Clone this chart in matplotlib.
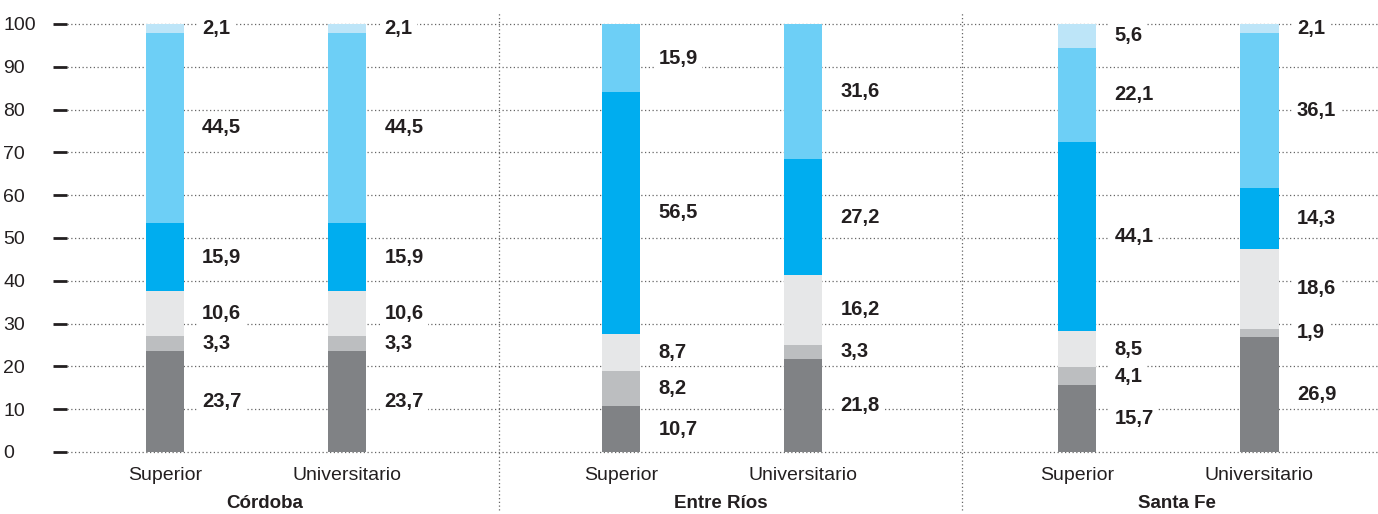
import numpy as np
import matplotlib
matplotlib.use("Agg")
import matplotlib.pyplot as plt
import matplotlib.transforms as mtransforms

plt.rcParams['font.family'] = ['Liberation Sans', 'DejaVu Sans']

groups = ["Córdoba", "Entre Ríos", "Santa Fe"]
levels = ["Superior", "Universitario"]

# segments, bottom to top, for each bar (Córdoba Sup/Univ, Entre Ríos Sup/Univ, Santa Fe Sup/Univ)
seg1 = [23.7, 23.7, 10.7, 21.8, 15.7, 26.9]
seg2 = [3.3, 3.3, 8.2, 3.3, 4.1, 1.9]
seg3 = [10.6, 10.6, 8.7, 16.2, 8.5, 18.6]
seg4 = [15.9, 15.9, 56.5, 27.2, 44.1, 14.3]
seg5 = [44.5, 44.5, 15.9, 31.6, 22.1, 36.1]
seg6 = [2.1, 2.1, 0.0, 0.0, 5.6, 2.1]
yticks = list(range(0, 101, 10))

segments = [seg1, seg2, seg3, seg4, seg5, seg6]
colors = ["#808285", "#bcbec0", "#e6e7e8", "#00adef", "#6dcff6", "#bde5f8"]

pos = np.array([0, 1, 2.5, 3.5, 5, 6])
width = 0.21
txt = "#231f20"

fig = plt.figure(figsize=(13.78, 5.14), dpi=100)
ax = fig.add_axes([67 / 1378, 1 - 452 / 514, 1 - 67 / 1378, 428 / 514])

bottom = np.zeros(len(pos))
for vals, col in zip(segments, colors):
    vals = np.array(vals)
    ax.bar(pos, vals, width=width, bottom=bottom, color=col, zorder=2, linewidth=0)
    for x, b, v in zip(pos, bottom, vals):
        if v > 0:
            ax.text(x + 0.205, b + v / 2, f"{v:.1f}".replace(".", ","), ha="left", va="center",
                    fontsize=14.5, fontweight="bold", color=txt, zorder=3,
                    bbox=dict(facecolor="white", edgecolor="none", pad=3))
    bottom += vals

ax.set_xlim(-0.536, 6.65)
ax.set_ylim(0, 100)
for y in yticks:
    ax.axhline(y, color="#666666", linestyle=(0, (1, 2)), linewidth=0.9, zorder=1, clip_on=False)

ax.set_yticks(yticks)
ax.set_yticklabels([str(t) for t in yticks], ha="left", fontsize=14, color=txt)
ax.tick_params(axis="y", length=10, width=2, color=txt, pad=36)
ax.set_xticks([])
for s in ax.spines.values():
    s.set_visible(False)

trans = mtransforms.blended_transform_factory(ax.transData, ax.transAxes)
for x in [1.83, 4.37]:
    ax.plot([x, x], [-0.136, 1.028], transform=trans, color="#666666",
            linestyle=(0, (1, 2)), linewidth=0.9, clip_on=False)

for i, x in enumerate(pos):
    ax.text(x, -0.055, levels[i % 2], transform=trans, ha="center", va="center",
            fontsize=14, color=txt)
for g, name in enumerate(groups):
    mid = (pos[2 * g] + pos[2 * g + 1]) / 2 + 0.05
    ax.text(mid, -0.12, name, transform=trans, ha="center", va="center",
            fontsize=13.5, fontweight="bold", color=txt)

fig.savefig("out.png", dpi=100)
